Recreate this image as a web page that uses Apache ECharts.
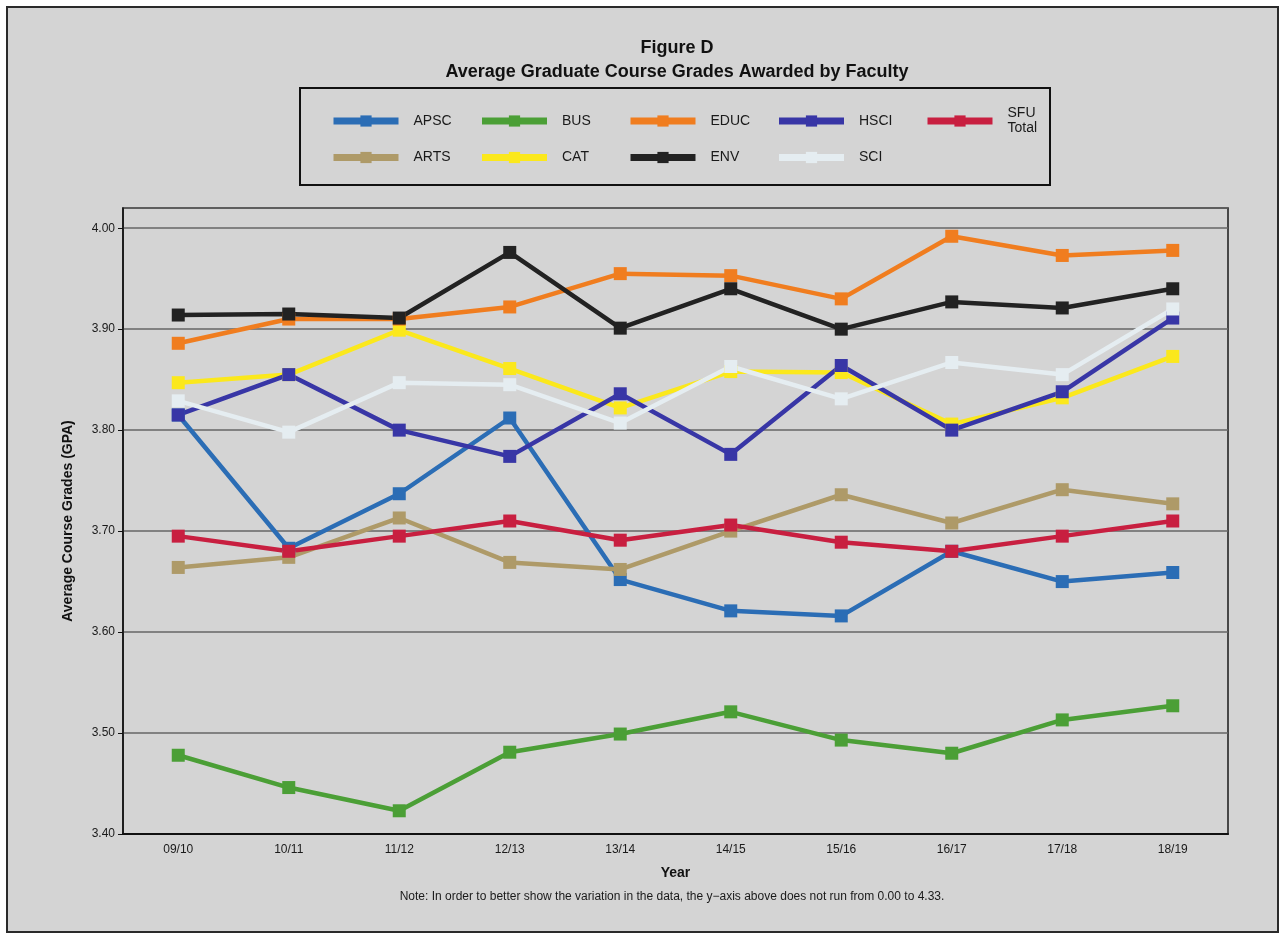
<!DOCTYPE html>
<html>
<head>
<meta charset="utf-8">
<title>Figure D</title>
<script src="https://cdn.jsdelivr.net/npm/echarts@6/dist/echarts.min.js"></script>
<style>
  html, body { margin: 0; padding: 0; background: #ffffff; }
  .frame {
    position: absolute;
    left: 6px; top: 6px;
    width: 1269px; height: 923px;
    border: 2px solid #2a2a2a;
    background: #d4d4d4;
  }
  #chart {
    position: absolute;
    left: 0; top: 0;
    width: 1284px; height: 935px;
  }
</style>
</head>
<body>
<div class="frame"></div>
<div id="chart"></div>
<script>
const years = ['09/10', '10/11', '11/12', '12/13', '13/14', '14/15', '15/16', '16/17', '17/18', '18/19']
const yTicks = [3.4, 4.02, 0.1] // min, max, step

const apsc = [3.815, 3.683, 3.737, 3.812, 3.652, 3.621, 3.616, 3.680, 3.650, 3.659]
const arts = [3.664, 3.674, 3.713, 3.669, 3.662, 3.700, 3.736, 3.708, 3.741, 3.727]
const bus = [3.478, 3.446, 3.423, 3.481, 3.499, 3.521, 3.493, 3.480, 3.513, 3.527]
const cat = [3.847, 3.855, 3.899, 3.861, 3.822, 3.858, 3.857, 3.806, 3.832, 3.873]
const educ = [3.886, 3.910, 3.910, 3.922, 3.955, 3.953, 3.930, 3.992, 3.973, 3.978]
const env = [3.914, 3.915, 3.911, 3.976, 3.901, 3.940, 3.900, 3.927, 3.921, 3.940]
const hsci = [3.815, 3.855, 3.800, 3.774, 3.836, 3.776, 3.864, 3.800, 3.838, 3.911]
const sci = [3.829, 3.798, 3.847, 3.845, 3.807, 3.863, 3.831, 3.867, 3.855, 3.920]
const sfuTotal = [3.695, 3.680, 3.695, 3.710, 3.691, 3.706, 3.689, 3.680, 3.695, 3.710]

const legendRow1 = ['APSC', 'BUS', 'EDUC', 'HSCI', 'SFU\nTotal']
const legendRow2 = ['ARTS', 'CAT', 'ENV', 'SCI']

const font = 'Liberation Sans, Arial, Helvetica, sans-serif'

// drawing order matters: later series sit on top
const lines = [
  { name: 'APSC', color: '#2b6db5', data: apsc },
  { name: 'ARTS', color: '#ae9a68', data: arts },
  { name: 'BUS', color: '#4b9f36', data: bus },
  { name: 'CAT', color: '#fbe81c', data: cat },
  { name: 'EDUC', color: '#f07d1f', data: educ },
  { name: 'ENV', color: '#222222', data: env },
  { name: 'HSCI', color: '#3836a6', data: hsci },
  { name: 'SCI', color: '#e5edf1', data: sci },
  { name: 'SFU\nTotal', color: '#c81f40', data: sfuTotal },
]

function legendRow(data, top) {
  return {
    data: data,
    left: 330,
    top: top,
    padding: 0,
    orient: 'horizontal',
    itemWidth: 65,
    itemHeight: 14,
    itemGap: 10,
    lineStyle: { width: 7 },
    textStyle: {
      fontFamily: font,
      fontSize: 14,
      color: '#1a1a1a',
      width: 55,
      padding: [0, 0, 0, 10],
      lineHeight: 15,
    },
  }
}

const chart = echarts.init(document.getElementById('chart'))
chart.setOption({
  backgroundColor: 'transparent',
  animation: false,
  title: {
    text: 'Figure D\nAverage Graduate Course Grades Awarded by Faculty',
    left: 672,
    top: 31,
    textAlign: 'center',
    textStyle: {
      fontFamily: font,
      fontSize: 18,
      fontWeight: 'bold',
      color: '#111',
      lineHeight: 24,
    },
  },
  legend: [legendRow(legendRow1, 106), legendRow(legendRow2, 150)],
  grid: {
    left: 123,
    right: 56,
    top: 208,
    bottom: 101,
    show: true,
    borderColor: '#1a1a1a',
    borderWidth: 1.5,
    backgroundColor: 'transparent',
  },
  xAxis: {
    type: 'category',
    data: years,
    boundaryGap: true,
    name: 'Year',
    nameLocation: 'middle',
    nameGap: 32,
    nameTextStyle: { fontFamily: font, fontSize: 14, fontWeight: 'bold', color: '#111' },
    axisLine: { lineStyle: { color: '#111', width: 2 } },
    axisTick: { alignWithLabel: true, length: 5, lineStyle: { color: '#111', width: 1.5 } },
    axisLabel: { fontFamily: font, fontSize: 12, color: '#1a1a1a', margin: 10 },
  },
  yAxis: {
    type: 'value',
    min: yTicks[0],
    max: yTicks[1],
    interval: yTicks[2],
    name: 'Average Course Grades (GPA)',
    nameLocation: 'middle',
    nameGap: 48,
    nameTextStyle: { fontFamily: font, fontSize: 14, fontWeight: 'bold', color: '#111' },
    axisLine: { show: true, lineStyle: { color: '#111', width: 1.5 } },
    axisTick: { show: true, length: 5, lineStyle: { color: '#111' } },
    axisLabel: {
      fontFamily: font,
      fontSize: 12,
      color: '#1a1a1a',
      margin: 8,
      showMaxLabel: false,
      formatter: (v) => v.toFixed(2),
    },
    splitLine: { show: true, lineStyle: { color: '#666666', width: 1.6 } },
  },
  graphic: [
    {
      type: 'rect',
      shape: { x: 300, y: 88, width: 750, height: 97 },
      style: { fill: 'transparent', stroke: '#111', lineWidth: 2 },
      z: -1,
    },
    {
      type: 'text',
      x: 672,
      y: 897,
      style: {
        text: 'Note: In order to better show the variation in the data, the y\u2212axis above does not run from 0.00 to 4.33.',
        fontFamily: font,
        fontSize: 12,
        fill: '#1a1a1a',
        align: 'center',
        verticalAlign: 'middle',
      },
    },
  ],
  series: lines.map((s) => ({
    name: s.name,
    type: 'line',
    data: s.data,
    symbol: 'rect',
    symbolSize: 13,
    showSymbol: true,
    lineStyle: { width: 4.5, color: s.color },
    itemStyle: { color: s.color },
    emphasis: { disabled: true },
  })),
})
</script>
</body>
</html>
